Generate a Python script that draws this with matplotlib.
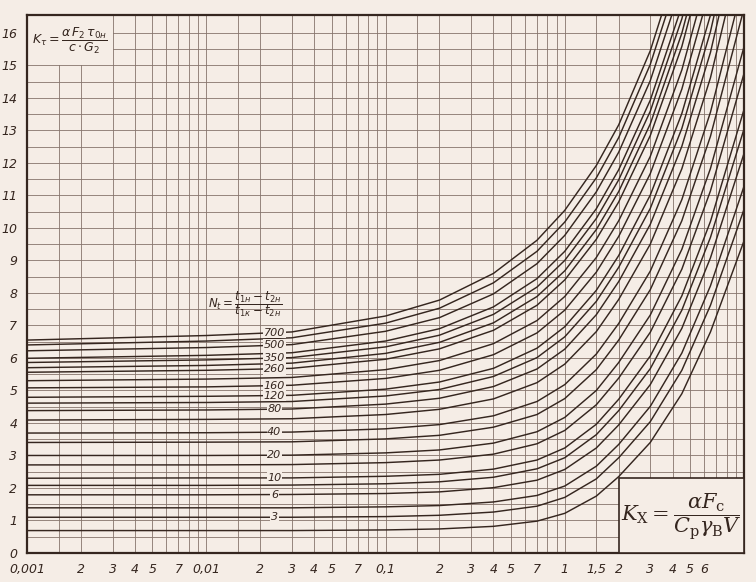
import matplotlib
matplotlib.use("Agg")
import matplotlib.pyplot as plt
import numpy as np
from matplotlib.patches import Rectangle
from matplotlib.ticker import NullLocator

kx = [0.001, 0.01, 0.03, 0.1, 0.2, 0.4, 0.7, 1, 1.5, 2, 3, 4.5, 6.5, 10]

# parameter N_t of each curve
nt = [2, 3, 4, 6, 8, 10, 15, 20, 30, 40, 60, 80, 100, 120, 160, 200, 260, 300, 350, 400, 500, 600, 700]

# K_tau read for each curve (one row per N_t)
kt = [
    [0.69, 0.69, 0.69, 0.71, 0.74, 0.82, 0.98, 1.22, 1.75, 2.35, 3.40, 4.90, 6.80, 9.60],
    [1.10, 1.10, 1.10, 1.12, 1.16, 1.26, 1.44, 1.71, 2.28, 2.93, 4.04, 5.62, 7.62, 10.57],
    [1.39, 1.39, 1.39, 1.42, 1.46, 1.57, 1.77, 2.06, 2.67, 3.34, 4.51, 6.15, 8.22, 11.28],
    [1.79, 1.79, 1.80, 1.83, 1.88, 2.01, 2.24, 2.57, 3.23, 3.94, 5.18, 6.91, 9.08, 12.29],
    [2.08, 2.08, 2.09, 2.13, 2.19, 2.33, 2.59, 2.93, 3.64, 4.38, 5.67, 7.47, 9.71, 13.04],
    [2.30, 2.31, 2.31, 2.36, 2.42, 2.58, 2.86, 3.23, 3.96, 4.73, 6.06, 7.91, 10.20, 13.64],
    [2.71, 2.71, 2.72, 2.78, 2.86, 3.04, 3.36, 3.77, 4.56, 5.38, 6.79, 8.73, 11.14, 14.75],
    [3.00, 3.00, 3.01, 3.08, 3.17, 3.38, 3.73, 4.17, 5.00, 5.86, 7.32, 9.34, 11.83, 15.57],
    [3.40, 3.41, 3.42, 3.51, 3.62, 3.87, 4.26, 4.75, 5.64, 6.55, 8.10, 10.22, 12.82, 16.75],
    [3.69, 3.70, 3.72, 3.82, 3.95, 4.22, 4.66, 5.18, 6.12, 7.06, 8.67, 10.87, 13.56, 17.63],
    [4.09, 4.11, 4.13, 4.26, 4.42, 4.74, 5.24, 5.81, 6.81, 7.80, 9.50, 11.82, 14.62, 18.91],
    [4.38, 4.40, 4.43, 4.58, 4.76, 5.12, 5.66, 6.27, 7.33, 8.35, 10.11, 12.51, 15.40, 19.85],
    [4.61, 4.63, 4.66, 4.83, 5.03, 5.43, 6.01, 6.65, 7.74, 8.79, 10.60, 13.06, 16.04, 20.60],
    [4.79, 4.82, 4.85, 5.04, 5.26, 5.68, 6.30, 6.96, 8.08, 9.15, 11.01, 13.52, 16.55, 21.22],
    [5.08, 5.11, 5.16, 5.37, 5.62, 6.10, 6.77, 7.47, 8.64, 9.74, 11.67, 14.27, 17.40, 22.23],
    [5.30, 5.35, 5.40, 5.64, 5.92, 6.44, 7.15, 7.89, 9.09, 10.22, 12.20, 14.86, 18.07, 23.04],
    [5.56, 5.62, 5.68, 5.96, 6.28, 6.85, 7.62, 8.40, 9.65, 10.80, 12.84, 15.58, 18.88, 24.01],
    [5.70, 5.77, 5.84, 6.14, 6.48, 7.08, 7.89, 8.68, 9.95, 11.12, 13.20, 15.99, 19.33, 24.54],
    [5.86, 5.94, 6.01, 6.34, 6.70, 7.34, 8.18, 9.00, 10.29, 11.48, 13.59, 16.43, 19.82, 25.14],
    [5.99, 6.08, 6.16, 6.52, 6.90, 7.57, 8.44, 9.28, 10.59, 11.79, 13.93, 16.82, 20.26, 25.66],
    [6.22, 6.32, 6.41, 6.82, 7.24, 7.97, 8.90, 9.77, 11.11, 12.33, 14.53, 17.49, 20.99, 26.57],
    [6.40, 6.52, 6.62, 7.07, 7.53, 8.31, 9.28, 10.18, 11.54, 12.78, 15.03, 18.05, 21.61, 27.31],
    [6.55, 6.69, 6.80, 7.29, 7.78, 8.60, 9.62, 10.54, 11.92, 13.17, 15.45, 18.52, 22.15, 27.95],
]

labelled = [3, 6, 10, 20, 40, 80, 120, 160, 260, 350, 500, 700]

xticks = [0.001, 0.002, 0.003, 0.004, 0.005, 0.007, 0.01, 0.02, 0.03, 0.04, 0.05, 0.07,
          0.1, 0.2, 0.3, 0.4, 0.5, 0.7, 1, 1.5, 2, 3, 4, 5, 6]
xlabels = ["0,001", "2", "3", "4", "5", "7", "0,01", "2", "3", "4", "5", "7",
           "0,1", "2", "3", "4", "5", "7", "1", "1,5", "2", "3", "4", "5", "6"]
yticks = list(range(0, 17))

paper = "#f5ede6"
ink = "#35261f"
gridc = "#85746b"

fig = plt.figure(figsize=(7.56, 5.82), dpi=100, facecolor=paper)
ax = fig.add_axes([27/756, 29/582, 717/756, 538/582])
ax.set_facecolor(paper)
ax.set_xscale("log")
ax.set_xlim(0.001, 10)
ax.set_ylim(0, 16.55)

# log paper grid: 1, 1.5, 2 ... 9 in every decade, half units vertically
gx = [m * 10.0**d for d in range(-3, 1) for m in [1, 1.5, 2, 3, 4, 5, 6, 7, 8, 9]]
ax.vlines(gx, 0, 16.55, color=gridc, lw=0.6, zorder=1)
ax.hlines(np.arange(0.5, 16.5, 0.5), 0.001, 10, color=gridc, lw=0.6, zorder=1)

for row in kt:
    ax.plot(kx, row, color=ink, lw=1.05, zorder=3, solid_joinstyle="round")

# curve labels sit in a gap at about K_x = 0.024
lx = 0.024
for n in labelled:
    row = kt[nt.index(n)]
    ly = np.interp(np.log10(lx), np.log10(kx), row)
    ax.text(lx, ly, str(n), fontsize=8, style="italic", color=ink, ha="center", va="center",
            zorder=6, bbox=dict(facecolor=paper, edgecolor="none", pad=0.6))

ax.text(0.0102, 7.65, r"$N_t=\dfrac{t_{1н}-t_{2н}}{t_{1к}-t_{2н}}$", fontsize=8.5, color=ink,
        ha="left", va="center", zorder=6)

# top-left formula box
ax.add_patch(Rectangle((0.001, 15.0), 0.002, 1.55, facecolor=paper, edgecolor="none", zorder=2))
ax.text(0.00107, 15.75, r"$K_\tau=\dfrac{\alpha\,F_2\,\tau_{0н}}{c\cdot G_2}$", fontsize=9,
        color=ink, ha="left", va="center", zorder=6)

# bottom-right formula box
ax.add_patch(Rectangle((2, 0), 8, 2.3, facecolor=paper, edgecolor=ink, lw=1.2, zorder=4))
ax.text(4.5, 1.12, r"$K_{\rm X}=\dfrac{\alpha F_{\rm c}}{C_{\rm p}\gamma_{\rm B} V}$",
        fontsize=15, color=ink, ha="center", va="center", zorder=6,
        math_fontfamily="dejavuserif")

ax.xaxis.set_minor_locator(NullLocator())
ax.set_xticks(xticks)
ax.set_xticklabels(xlabels, fontsize=9, style="italic", color=ink)
ax.set_yticks(yticks)
ax.set_yticklabels([str(v) for v in yticks], fontsize=9, style="italic", color=ink)
ax.tick_params(length=0, pad=7)

for s in ax.spines.values():
    s.set_color(ink)
    s.set_linewidth(1.6)

fig.savefig("out.png", dpi=100, facecolor=paper)
